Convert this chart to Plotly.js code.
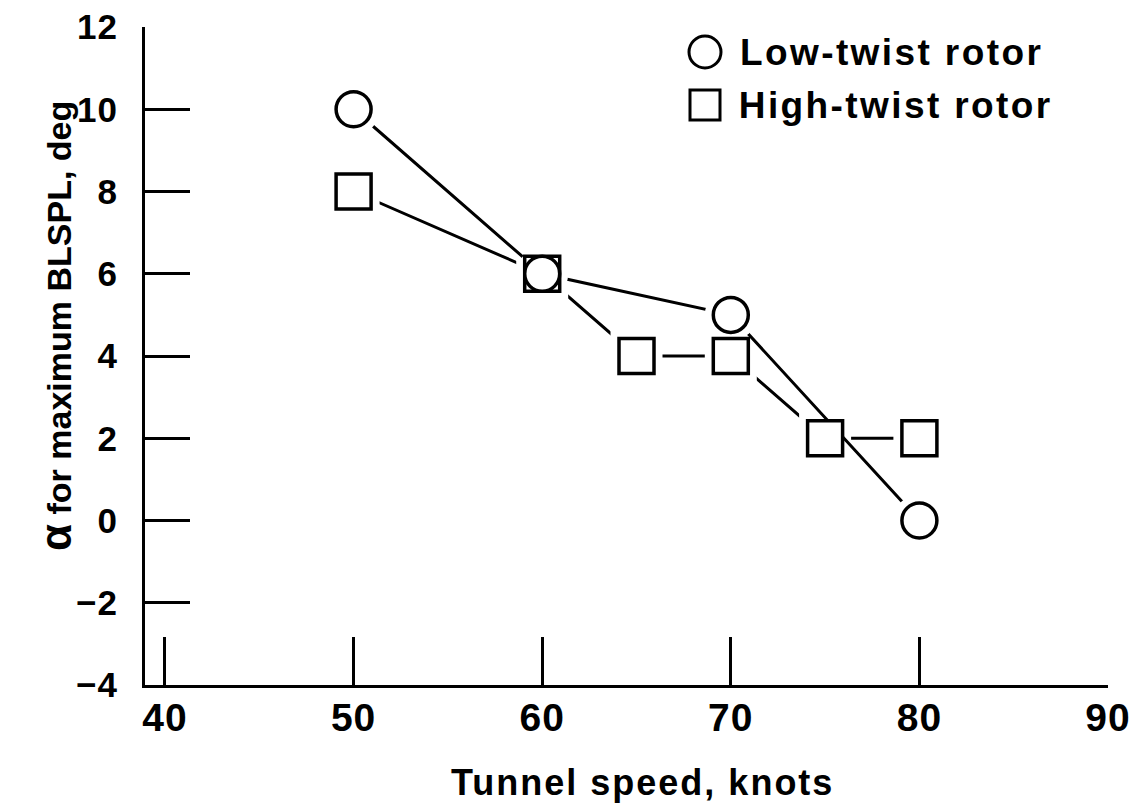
<!DOCTYPE html>
<html>
<head>
<meta charset="utf-8">
<script src="https://cdn.plot.ly/plotly-3.0.1.min.js"></script>
<style>
html,body{margin:0;padding:0;background:#fff;}
#chart{width:1142px;height:807px;}
#chart g.annotation[data-index="0"] text{letter-spacing:2px;}
#chart g.annotation[data-index="2"] text, #chart g.annotation[data-index="3"] text{letter-spacing:2.4px;}
#chart .xtick text, #chart .ytick text{letter-spacing:1px;}
</style>
</head>
<body>
<div id="chart"></div>
<script>
// ---- data ----
const lowTwistSpeed = [50, 60, 70, 80];
const lowTwistAlpha = [10, 6, 5, 0];
const highTwistSpeed = [50, 60, 65, 70, 75, 80];
const highTwistAlpha = [8, 6, 4, 4, 2, 2];
const xTickVals = [40, 50, 60, 70, 80, 90];
const yTickVals = [-4, -2, 0, 2, 4, 6, 8, 10, 12];
const seriesNames = ["Low-twist rotor", "High-twist rotor"];
const xTitle = "Tunnel speed, knots";
const yTitle = "<span style=\"font-size:44px\">α</span> for maximum BLSPL, deg";

// ---- layout geometry ----
const W = 1142, H = 807;
const M = {l: 145, r: 34, t: 27, b: 122};
const pw = W - M.l - M.r, ph = H - M.t - M.b;
const px2x = p => (p - M.l) / pw;
const py2y = p => (H - M.b - p) / ph;

const FONT = "Liberation Sans, Arial, sans-serif";
const MS = 35, HALO = 52, LW = 3;

const traces = [
  {x: highTwistSpeed, y: highTwistAlpha, mode: "lines", line: {color: "#000", width: LW}, hoverinfo: "skip", showlegend: false},
  {x: highTwistSpeed, y: highTwistAlpha, mode: "markers", marker: {symbol: "square", size: HALO, color: "#fff", line: {width: 0}}, hoverinfo: "skip", showlegend: false},
  {x: lowTwistSpeed, y: lowTwistAlpha, mode: "lines", line: {color: "#000", width: LW}, hoverinfo: "skip", showlegend: false},
  {x: lowTwistSpeed, y: lowTwistAlpha, mode: "markers", marker: {symbol: "circle", size: HALO, color: "#fff", line: {width: 0}}, hoverinfo: "skip", showlegend: false},
  {x: highTwistSpeed, y: highTwistAlpha, mode: "markers", name: seriesNames[1], marker: {symbol: "square", size: MS, color: "#fff", line: {color: "#000", width: 3.5}}, showlegend: false},
  {x: lowTwistSpeed, y: lowTwistAlpha, mode: "markers", name: seriesNames[0], marker: {symbol: "circle", size: MS, color: "#fff", line: {color: "#000", width: 3.5}}, showlegend: false}
];

const legX = 705, legY1 = 52, legY2 = 105, legTextX = 756;
const layout = {
  width: W, height: H,
  margin: M,
  paper_bgcolor: "#fff", plot_bgcolor: "#fff",
  showlegend: false,
  font: {family: FONT, color: "#000"},
  xaxis: {
    range: [38.94, 90], tickvals: xTickVals, ticks: "inside", ticklen: 48, tickwidth: 3, tickcolor: "#000",
    showline: true, linewidth: 3, linecolor: "#000", showgrid: false, zeroline: false,
    tickfont: {family: FONT, size: 39, weight: "bold", color: "#000"}, ticklabelstandoff: -4
  },
  yaxis: {
    range: [-4, 12], tickvals: yTickVals, ticks: "inside", ticklen: 45, tickwidth: 3, tickcolor: "#000",
    showline: true, linewidth: 3, linecolor: "#000", showgrid: false, zeroline: false,
    tickfont: {family: FONT, size: 35, weight: "bold", color: "#000"}, ticklabelstandoff: 17
  },
  annotations: [
    {text: xTitle, xref: "paper", yref: "paper", x: px2x(642), y: py2y(782), showarrow: false,
     font: {family: FONT, size: 36, weight: "bold", color: "#000"}, xanchor: "center", yanchor: "middle"},
    {text: yTitle, xref: "paper", yref: "paper", x: px2x(55), y: py2y(326), showarrow: false, textangle: -90,
     font: {family: FONT, size: 34, weight: "bold", color: "#000"}, xanchor: "center", yanchor: "middle"},
    {text: seriesNames[0], xref: "paper", yref: "paper", x: px2x(legTextX), y: py2y(legY1), showarrow: false,
     font: {family: FONT, size: 37, weight: "bold", color: "#000"}, xanchor: "left", yanchor: "middle"},
    {text: seriesNames[1], xref: "paper", yref: "paper", x: px2x(legTextX), y: py2y(legY2), showarrow: false,
     font: {family: FONT, size: 37, weight: "bold", color: "#000"}, xanchor: "left", yanchor: "middle"}
  ],
  shapes: [
    {type: "circle", xref: "paper", yref: "paper", xsizemode: "pixel", ysizemode: "pixel",
     xanchor: px2x(legX), yanchor: py2y(legY1), x0: -16, x1: 16, y0: -16, y1: 16,
     line: {color: "#000", width: 3}, fillcolor: "#fff"},
    {type: "rect", xref: "paper", yref: "paper", xsizemode: "pixel", ysizemode: "pixel",
     xanchor: px2x(legX), yanchor: py2y(legY2), x0: -15, x1: 15, y0: -15, y1: 15,
     line: {color: "#000", width: 3}, fillcolor: "#fff"}
  ]
};

Plotly.newPlot("chart", traces, layout, {staticPlot: true, displayModeBar: false});
</script>
</body>
</html>
